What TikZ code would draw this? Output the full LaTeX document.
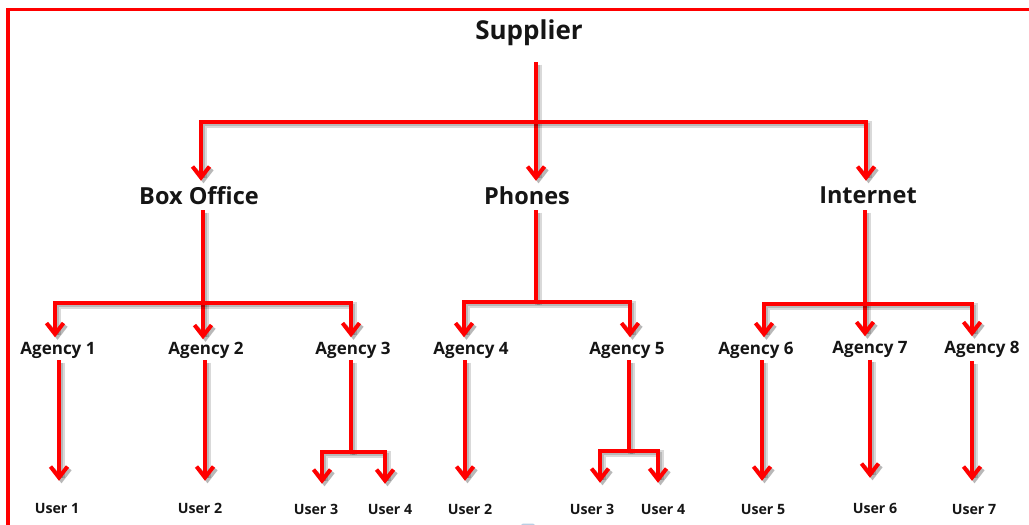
\documentclass[tikz,border=0pt]{standalone}
\usepackage{fontspec}
\setmainfont{Open Sans}
\usetikzlibrary{arrows.meta}
\definecolor{linkred}{HTML}{FF0000}
\definecolor{inkc}{HTML}{151515}
\definecolor{bitblue}{HTML}{B9CFE4}
\tikzset{
  x=1pt,y=-1pt,
  tipa/.tip={Straight Barb[length=11pt,width=17pt,line width=4pt]},
  shad/.style={draw=black,line width=#1,opacity=.15,transform canvas={shift={(2.5pt,-2.5pt)}}},
  bus/.style={draw=linkred,line width=4pt,line join=miter,
    preaction={shad=6.5pt},preaction={shad=3.5pt}},
  link/.style={bus,-{tipa}},
  titlelab/.style={font=\bfseries\fontsize{26}{26}\selectfont,text=inkc,inner sep=0pt,minimum height=30pt},
  midlab/.style={font=\bfseries\fontsize{23.5}{24}\selectfont,text=inkc,inner sep=0pt,minimum height=29pt},
  aglab/.style={font=\bfseries\fontsize{17}{18}\selectfont,text=inkc,inner sep=0pt,minimum height=25pt},
  uslab/.style={font=\bfseries\fontsize{14.2}{15}\selectfont,text=inkc,inner sep=0pt,minimum height=26pt},
}
\begin{document}
\begin{tikzpicture}
\useasboundingbox (0,0) rectangle (1029,525);
\fill[white] (0,0) rectangle (1029,525);
\draw[linkred,line width=3.4pt] (8,525) -- (8,9.5) -- (1029,9.5);
\fill[bitblue] (521,525) -- (523,523.5) -- (533,523.5) -- (535,525) -- cycle;
% labels
\node[titlelab] (sup) at (529,32.5) {Supplier};
\node[midlab] (box) at (199,195.5) {Box Office};
\node[midlab] (pho) at (527,195.5) {Phones};
\node[midlab] (int) at (868,195.5) {Internet};
\node[aglab] (a1) at (58,350) {Agency 1};
\node[aglab] (a2) at (206,350) {Agency 2};
\node[aglab] (a3) at (353,350) {Agency 3};
\node[aglab] (a4) at (471,350) {Agency 4};
\node[aglab] (a5) at (627,350) {Agency 5};
\node[aglab] (a6) at (756,350) {Agency 6};
\node[aglab] (a7) at (870,349) {Agency 7};
\node[aglab] (a8) at (982,349) {Agency 8};
\node[uslab] (u1) at (57,508) {User 1};
\node[uslab] (u2) at (200,508) {User 2};
\node[uslab] (u3) at (316,509) {User 3};
\node[uslab] (u4) at (390,509) {User 4};
\node[uslab] (u5) at (470,509) {User 2};
\node[uslab] (u6) at (592,509) {User 3};
\node[uslab] (u7) at (663,509) {User 4};
\node[uslab] (u8) at (763,509) {User 5};
\node[uslab] (u9) at (875,508) {User 6};
\node[uslab] (u10) at (974,509) {User 7};
% junctions
\coordinate (jT) at (536,122);
\coordinate (jB) at (203,303);
\coordinate (jP) at (536,302);
\coordinate (jI) at (865,304);
\coordinate (j3) at (351,452);
\coordinate (j5) at (629,451);
% supplier to channels
\draw[link,shorten <=14.5pt] (536,0 |- sup.south) -- (536,0 |- pho.north);
\draw[link] (jT) -| (201,0 |- box.north);
\draw[link] (jT) -| (866,0 |- int.north);
% box office
\draw[link,shorten >=-2pt] (203,0 |- box.south) -- (203,0 |- a2.north);
\draw[link] (jB) -| (55,0 |- a1.north);
\draw[link] (jB) -| (351,0 |- a3.north);
% phones
\draw[bus] (536,0 |- pho.south) -- (jP);
\draw[link] (jP) -| (464,0 |- a4.north);
\draw[link] (jP) -| (630,0 |- a5.north);
% internet
\draw[link] (865,0 |- int.south) -- (865,0 |- a7.north);
\draw[link] (jI) -| (764,0 |- a6.north);
\draw[link] (jI) -| (972,0 |- a8.north);
% agencies to users
\draw[link,shorten <=-2.5pt,shorten >=14pt] (59,0 |- a1.south) -- (59,0 |- u1.north);
\draw[link,shorten <=-2.5pt,shorten >=14pt] (205,0 |- a2.south) -- (205,0 |- u2.north);
\draw[bus,shorten <=-2.5pt] (351,0 |- a3.south) -- (j3);
\draw[link,shorten >=12pt] (j3) -| (322,0 |- u3.north);
\draw[link,shorten >=12pt] (j3) -| (385,0 |- u4.north);
\draw[link,shorten <=-2.5pt,shorten >=15pt] (465,0 |- a4.south) -- (465,0 |- u5.north);
\draw[bus,shorten <=-2.5pt] (629,0 |- a5.south) -- (j5);
\draw[link,shorten >=13pt] (j5) -| (600,0 |- u6.north);
\draw[link,shorten >=13pt] (j5) -| (658,0 |- u7.north);
\draw[link,shorten <=-2.5pt,shorten >=15pt] (762,0 |- a6.south) -- (762,0 |- u8.north);
\draw[link,shorten <=-2pt,shorten >=17pt] (870,0 |- a7.south) -- (870,0 |- u9.north);
\draw[link,shorten <=-.5pt,shorten >=15pt] (972,0 |- a8.south) -- (972,0 |- u10.north);
\end{tikzpicture}
\end{document}
